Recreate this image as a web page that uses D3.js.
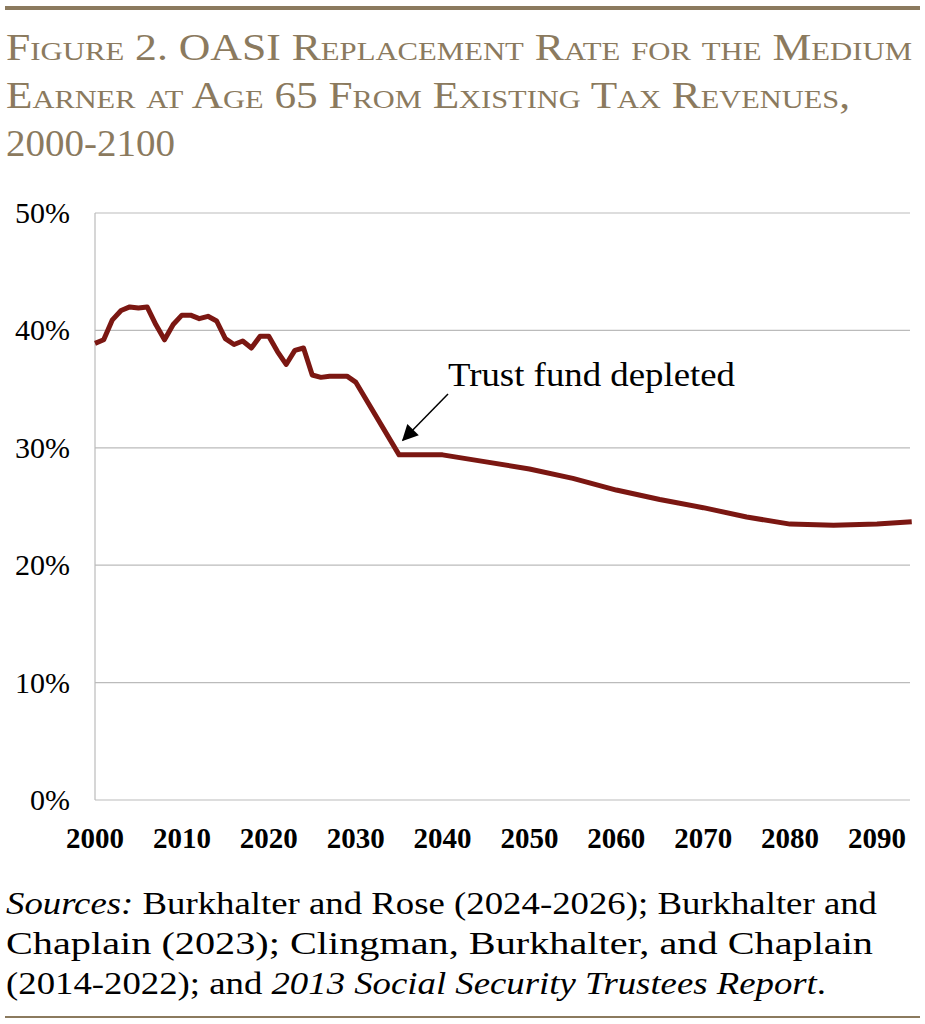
<!DOCTYPE html><html><head><meta charset="utf-8">
<script src="https://cdn.jsdelivr.net/npm/d3@7"></script>
<style>body{margin:0;background:#fff}</style></head><body>
<svg id="c" width="925" height="1024"></svg>
<script>
const years=[2000,2001,2002,2003,2004,2005,2006,2007,2008,2009,2010,2011,2012,2013,2014,2015,2016,2017,2018,2019,2020,2021,2022,2023,2024,2025,2026,2027,2028,2029,2030,2035,2040,2045,2050,2055,2060,2065,2070,2075,2080,2085,2090,2094];
const rates=[38.9,39.2,40.9,41.7,42.0,41.9,42.0,40.5,39.2,40.5,41.3,41.3,41.0,41.2,40.8,39.3,38.8,39.1,38.5,39.5,39.5,38.2,37.1,38.3,38.5,36.2,36.0,36.1,36.1,36.1,35.6,29.4,29.4,28.8,28.2,27.4,26.4,25.6,24.9,24.1,23.5,23.4,23.5,23.7];
const yTicks=[0,10,20,30,40,50];
const xTicks=[2000,2010,2020,2030,2040,2050,2060,2070,2080,2090];
const svg=d3.select("#c");
const gold="#8b7a5e";
svg.append("rect").attr("x",5).attr("y",6).attr("width",915).attr("height",4).attr("fill",gold);
svg.append("rect").attr("x",5).attr("y",1016).attr("width",915).attr("height",2).attr("fill",gold);
const titleW=[906,844,169];
["Figure 2. OASI Replacement Rate for the Medium","Earner at Age 65 From Existing Tax Revenues,","2000-2100"].forEach((t,i)=>
 svg.append("text").attr("x",6).attr("y",60+i*48).text(t).attr("fill",gold).attr("textLength",titleW[i]).attr("lengthAdjust","spacingAndGlyphs")
 .style("font-family","Liberation Serif").style("font-size","37px").style("font-variant","small-caps"));
const x=d3.scaleLinear().domain([2000,2093.8]).range([95,910]);
const y=d3.scaleLinear().domain([0,50]).range([800,213]);
const F="Liberation Serif";
svg.append("g").selectAll("line").data(yTicks).join("line").attr("x1",95).attr("x2",910)
 .attr("y1",d=>y(d)).attr("y2",d=>y(d)).attr("stroke","#bbb").attr("stroke-width",1.2);
svg.append("line").attr("x1",95).attr("x2",95).attr("y1",213).attr("y2",800).attr("stroke","#bbb").attr("stroke-width",1.2);
svg.append("g").selectAll("text").data(yTicks).join("text").attr("x",67).attr("y",d=>y(d)+10).attr("text-anchor","end").attr("dx",d=>d==0?0:0)
 .attr("x",68).attr("text-anchor","end").attr("x",70)
 .text(d=>d+"%").style("font-family",F).style("font-size","30px");
svg.append("g").selectAll("text").data(xTicks).join("text").attr("x",d=>x(d)).attr("y",848).attr("text-anchor","middle")
 .text(d=>d).style("font-family",F).style("font-size","29px").style("font-weight","bold");
svg.append("path").datum(years.map((d,i)=>[d,rates[i]])).attr("d",d3.line().x(d=>x(d[0])).y(d=>y(d[1])))
 .attr("fill","none").attr("stroke","#7b1712").attr("stroke-width",5).attr("stroke-linejoin","round");
svg.append("defs").append("marker").attr("id","ar").attr("viewBox","0 0 10 10").attr("refX",9).attr("refY",5)
 .attr("markerWidth",20).attr("markerHeight",16).attr("orient","auto").attr("markerUnits","userSpaceOnUse")
 .append("path").attr("d","M0,0L10,5L0,10z");
svg.append("line").attr("x1",448).attr("y1",394).attr("x2",403).attr("y2",440).attr("stroke","#000").attr("stroke-width",1.5).attr("marker-end","url(#ar)");
svg.append("text").attr("x",448).attr("y",386).text("Trust fund depleted").attr("textLength",287).attr("lengthAdjust","spacingAndGlyphs").style("font-family",F).style("font-size","33px");
const src=svg.append("g").style("font-family",F).style("font-size","32px");
let t=src.append("text").attr("x",6).attr("y",914).attr("textLength",871).attr("lengthAdjust","spacingAndGlyphs");
t.append("tspan").style("font-style","italic").text("Sources:");t.append("tspan").text(" Burkhalter and Rose (2024-2026); Burkhalter and");
src.append("text").attr("x",6).attr("y",954).attr("textLength",867).attr("lengthAdjust","spacingAndGlyphs").text("Chaplain (2023); Clingman, Burkhalter, and Chaplain");
t=src.append("text").attr("x",6).attr("y",994).attr("textLength",820).attr("lengthAdjust","spacingAndGlyphs");
t.append("tspan").text("(2014-2022); and ");t.append("tspan").style("font-style","italic").text("2013 Social Security Trustees Report");t.append("tspan").text(".");
</script></body></html>
